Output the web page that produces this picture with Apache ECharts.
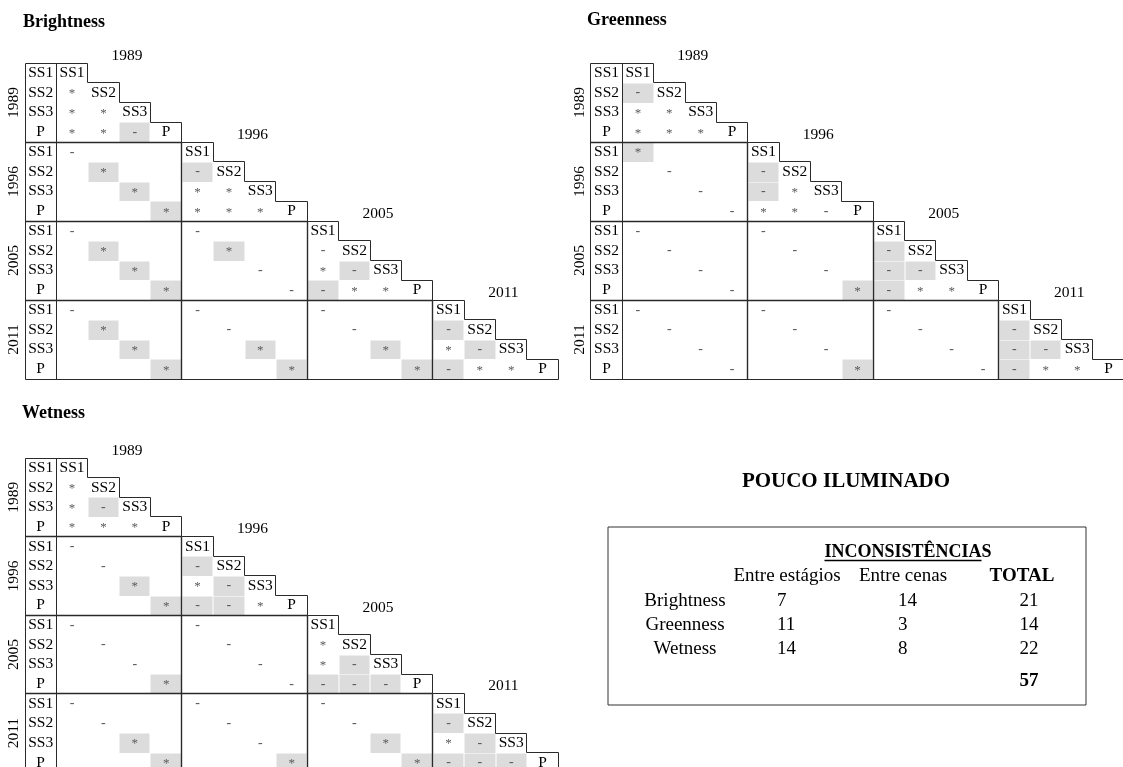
<!DOCTYPE html>
<html><head><meta charset="utf-8">
<script src="https://cdn.jsdelivr.net/npm/echarts@6/dist/echarts.min.js"></script>
<style>html,body{margin:0;padding:0;background:#fff}#chart{width:1123px;height:767px}</style>
</head><body><div id="chart"></div>
<script>
// ---------------- DATA ----------------
const stages = ['SS1', 'SS2', 'SS3', 'P'];
const years = ['1989', '1996', '2005', '2011'];
// lower-triangle cells, row r has r entries (columns 0..r-1)
// '*' significant, '-' not significant, '' blank; suffix 'g' = grey-shaded cell
const brightness = [
  [],
  ['*'],
  ['*', '*'],
  ['*', '*', '-g'],
  ['-', '', '', ''],
  ['', '*g', '', '', '-g'],
  ['', '', '*g', '', '*', '*'],
  ['', '', '', '*g', '*', '*', '*'],
  ['-', '', '', '', '-', '', '', ''],
  ['', '*g', '', '', '', '*g', '', '', '-'],
  ['', '', '*g', '', '', '', '-', '', '*', '-g'],
  ['', '', '', '*g', '', '', '', '-', '-g', '*', '*'],
  ['-', '', '', '', '-', '', '', '', '-', '', '', ''],
  ['', '*g', '', '', '', '-', '', '', '', '-', '', '', '-g'],
  ['', '', '*g', '', '', '', '*g', '', '', '', '*g', '', '*', '-g'],
  ['', '', '', '*g', '', '', '', '*g', '', '', '', '*g', '-g', '*', '*']
];
const greenness = [
  [],
  ['-g'],
  ['*', '*'],
  ['*', '*', '*'],
  ['*g', '', '', ''],
  ['', '-', '', '', '-g'],
  ['', '', '-', '', '-g', '*'],
  ['', '', '', '-', '*', '*', '-'],
  ['-', '', '', '', '-', '', '', ''],
  ['', '-', '', '', '', '-', '', '', '-g'],
  ['', '', '-', '', '', '', '-', '', '-g', '-g'],
  ['', '', '', '-', '', '', '', '*g', '-g', '*', '*'],
  ['-', '', '', '', '-', '', '', '', '-', '', '', ''],
  ['', '-', '', '', '', '-', '', '', '', '-', '', '', '-g'],
  ['', '', '-', '', '', '', '-', '', '', '', '-', '', '-g', '-g'],
  ['', '', '', '-', '', '', '', '*g', '', '', '', '-', '-g', '*', '*']
];
const wetness = [
  [],
  ['*'],
  ['*', '-g'],
  ['*', '*', '*'],
  ['-', '', '', ''],
  ['', '-', '', '', '-g'],
  ['', '', '*g', '', '*', '-g'],
  ['', '', '', '*g', '-g', '-g', '*'],
  ['-', '', '', '', '-', '', '', ''],
  ['', '-', '', '', '', '-', '', '', '*'],
  ['', '', '-', '', '', '', '-', '', '*', '-g'],
  ['', '', '', '*g', '', '', '', '-', '-g', '-g', '-g'],
  ['-', '', '', '', '-', '', '', '', '-', '', '', ''],
  ['', '-', '', '', '', '-', '', '', '', '-', '', '', '-g'],
  ['', '', '*g', '', '', '', '-', '', '', '', '*g', '', '*', '-g'],
  ['', '', '', '*g', '', '', '', '*g', '', '', '', '*g', '-g', '-g', '-g']
];
const matrixTitles = ['Brightness', 'Greenness', 'Wetness'];

const tableTitle = 'POUCO ILUMINADO';
const tableHeader = 'INCONSISTÊNCIAS';
const tableColumns = ['Entre estágios', 'Entre cenas', 'TOTAL'];
const tableRows = ['Brightness', 'Greenness', 'Wetness'];
const entreEstagios = [7, 11, 14];
const entreCenas = [14, 3, 8];
const totals = [21, 14, 22];
const grandTotal = 57;

// ---------------- LAYOUT ----------------
const SERIF = '"Liberation Serif", "Times New Roman", serif';
const LINE = '#2a2a2a';
const SHADE = '#dcdcdc';
const SYM = '#5a5a5a';
const N = years.length * stages.length;
const COLW = 31.37;
// each grid: pixel box (kept inside the canvas) and row height; axis ranges derived from them
const grids = [
  { left: 25, top: 63, width: 533.3, height: 316, rowH: 19.75 },
  { left: 590.9, top: 63, width: 532, height: 316, rowH: 19.75 },
  { left: 25, top: 458, width: 533.3, height: 309, rowH: 19.65 }
];
const tableGrid = { left: 608, top: 527, width: 478, height: 178 };

const crisp = v => Math.round(v - 0.5) + 0.5;

function buildMatrixSeries(rows, gi) {
  const cells = [];
  rows.forEach((row, r) => row.forEach((tok, c) => {
    if (tok) cells.push({ x: c, y: r, sym: tok[0], shaded: tok[1] === 'g' });
  }));
  const labels = [];
  for (let r = 0; r < N; r++) {
    const st = stages[r % 4];
    labels.push({ x: -0.5, y: r + 0.5, text: st });
    labels.push({ x: r + 0.5, y: r + 0.5, text: st });
  }
  years.forEach((yr, k) => {
    labels.push({ x: 4 * k + 2.25, y: 4 * k - 0.38, text: yr });
    labels.push({ x: -1.36, y: 4 * k + 2, text: yr, rot: true });
  });
  const common = { type: 'custom', coordinateSystem: 'cartesian2d', xAxisIndex: gi, yAxisIndex: gi, silent: true, animation: false };
  return [
    Object.assign({}, common, {
      z: 2,
      data: cells.map(c => [c.x, c.y]),
      renderItem: (params, api) => {
        const cell = cells[params.dataIndex];
        const p0 = api.coord([cell.x, cell.y]);
        const p1 = api.coord([cell.x + 1, cell.y + 1]);
        const ch = [];
        if (cell.shaded) {
          const x0 = Math.round(p0[0]), x1 = Math.round(p1[0]);
          const y0 = Math.round(p0[1]), y1 = Math.round(p1[1]);
          ch.push({ type: 'rect', shape: { x: x0 + 0.5, y: y0 + 0.5, width: x1 - x0 - 1, height: y1 - y0 - 0.5 }, style: { fill: SHADE } });
        }
        ch.push({ type: 'text', style: {
          text: cell.sym, x: (p0[0] + p1[0]) / 2, y: (p0[1] + p1[1]) / 2 + (cell.sym === '*' ? 1 : 0),
          align: 'center', verticalAlign: 'middle', textAlign: 'center', textVerticalAlign: 'middle',
          font: (cell.sym === '*' ? '13px ' : '14px ') + SERIF, fill: SYM } });
        return { type: 'group', children: ch };
      }
    }),
    Object.assign({}, common, {
      z: 4,
      data: labels.map(l => [l.x, l.y]),
      renderItem: (params, api) => {
        const l = labels[params.dataIndex];
        const p = api.coord([l.x, l.y]);
        return { type: 'text', x: p[0], y: p[1], rotation: l.rot ? Math.PI / 2 : 0,
          style: { text: l.text, x: 0, y: 0, align: 'center', verticalAlign: 'middle', textAlign: 'center', textVerticalAlign: 'middle',
            font: '15.5px ' + SERIF, fill: '#000' } };
      }
    }),
    Object.assign({}, common, {
      z: 3,
      data: [[0, 0]],
      renderItem: (params, api) => {
        const P = (x, y) => { const p = api.coord([x, y]); return [crisp(p[0]), crisp(p[1])]; };
        const stair = [P(-1, 0)];
        for (let r = 0; r < N; r++) { stair.push(P(r + 1, r)); stair.push(P(r + 1, r + 1)); }
        stair.push(P(-1, N)); stair.push(P(-1, 0));
        const ch = [
          { type: 'polyline', shape: { points: stair }, style: { stroke: LINE, lineWidth: 1, fill: null } },
          { type: 'polyline', shape: { points: [P(0, 0), P(0, N)] }, style: { stroke: LINE, lineWidth: 1 } }
        ];
        for (let k = 1; k < 4; k++) {
          ch.push({ type: 'polyline', shape: { points: [P(-1, 4 * k), P(4 * k, 4 * k)] }, style: { stroke: LINE, lineWidth: 1.4 } });
          ch.push({ type: 'polyline', shape: { points: [P(4 * k, 4 * k), P(4 * k, N)] }, style: { stroke: LINE, lineWidth: 1.4 } });
        }
        return { type: 'group', children: ch };
      }
    })
  ];
}

// table items
const tf = (s, b) => (b ? 'bold ' : '') + s + 'px ' + SERIF;
const colHeadX = [179, 295, 414];
const rowLabelX = 77, estX = 169, cenX = 290, totX = 421;
const tableItems = [];
tableItems.push({ x: 300, y: 0, text: tableHeader, font: tf(18, true), align: 'center', underline: 'INCONSISTÊNCIA' });
tableColumns.forEach((t, i) => tableItems.push({ x: colHeadX[i], y: 1, text: t, font: tf(19, i === 2), align: 'center' }));
tableRows.forEach((t, i) => {
  tableItems.push({ x: rowLabelX, y: 2 + i, text: t, font: tf(19), align: 'center' });
  tableItems.push({ x: estX, y: 2 + i, text: String(entreEstagios[i]), font: tf(19), align: 'left' });
  tableItems.push({ x: cenX, y: 2 + i, text: String(entreCenas[i]), font: tf(19), align: 'left' });
  tableItems.push({ x: totX, y: 2 + i, text: String(totals[i]), font: tf(19), align: 'center' });
});
tableItems.push({ x: totX, y: 5.3, text: String(grandTotal), font: tf(19, true), align: 'center' });

const measureCtx = document.createElement('canvas').getContext('2d');
function textWidth(t, font) { measureCtx.font = font; return measureCtx.measureText(t).width; }

const tableSeries = {
  type: 'custom', coordinateSystem: 'cartesian2d', xAxisIndex: 3, yAxisIndex: 3, silent: true, animation: false, z: 4,
  data: tableItems.map(t => [t.x, t.y]),
  renderItem: (params, api) => {
    const it = tableItems[params.dataIndex];
    const p = api.coord([it.x, it.y]);
    const ch = [{ type: 'text', style: { text: it.text, x: p[0], y: p[1], align: it.align, verticalAlign: 'middle',
      textAlign: it.align, textVerticalAlign: 'middle', font: it.font, fill: '#000' } }];
    if (it.underline) {
      const w = textWidth(it.text, it.font);
      const wu = textWidth(it.underline, it.font);
      const x0 = p[0] - w / 2;
      const yy = crisp(p[1] + 8);
      ch.push({ type: 'line', shape: { x1: x0, y1: yy, x2: x0 + wu, y2: yy }, style: { stroke: '#000', lineWidth: 1.3 } });
    }
    return { type: 'group', children: ch };
  }
};

let series = [];
[brightness, greenness, wetness].forEach((m, i) => { series = series.concat(buildMatrixSeries(m, i)); });
series.push(tableSeries);

const titleStyle = { fontFamily: SERIF, fontSize: 18, fontWeight: 'bold', color: '#000' };
const option = {
  backgroundColor: '#fff',
  animation: false,
  title: [
    { text: matrixTitles[0], left: 23, top: 13, padding: 0, textStyle: titleStyle },
    { text: matrixTitles[1], left: 587, top: 11, padding: 0, textStyle: titleStyle },
    { text: matrixTitles[2], left: 22, top: 404, padding: 0, textStyle: titleStyle },
    { text: tableTitle, left: 846, top: 471, padding: 0, textAlign: 'center', textStyle: Object.assign({}, titleStyle, { fontSize: 21 }) }
  ],
  grid: grids.map(g => ({ left: g.left, top: g.top, width: g.width, height: g.height, containLabel: false, show: false })).concat([
    Object.assign({ show: true, borderColor: '#333', borderWidth: 1, backgroundColor: 'transparent' }, tableGrid)
  ]),
  xAxis: grids.map((g, i) => ({ type: 'value', gridIndex: i, min: -1, max: -1 + g.width / COLW, show: false })).concat([
    { type: 'value', gridIndex: 3, min: 0, max: tableGrid.width, show: false }
  ]),
  yAxis: grids.map((g, i) => ({ type: 'value', gridIndex: i, min: 0, max: g.height / g.rowH, inverse: true, show: false })).concat([
    { type: 'value', gridIndex: 3, min: -1.03, max: 6.295, inverse: true, show: false }
  ]),
  series: series
};
const chart = echarts.init(document.getElementById('chart'), null, { renderer: 'canvas' });
chart.setOption(option);
</script></body></html>
